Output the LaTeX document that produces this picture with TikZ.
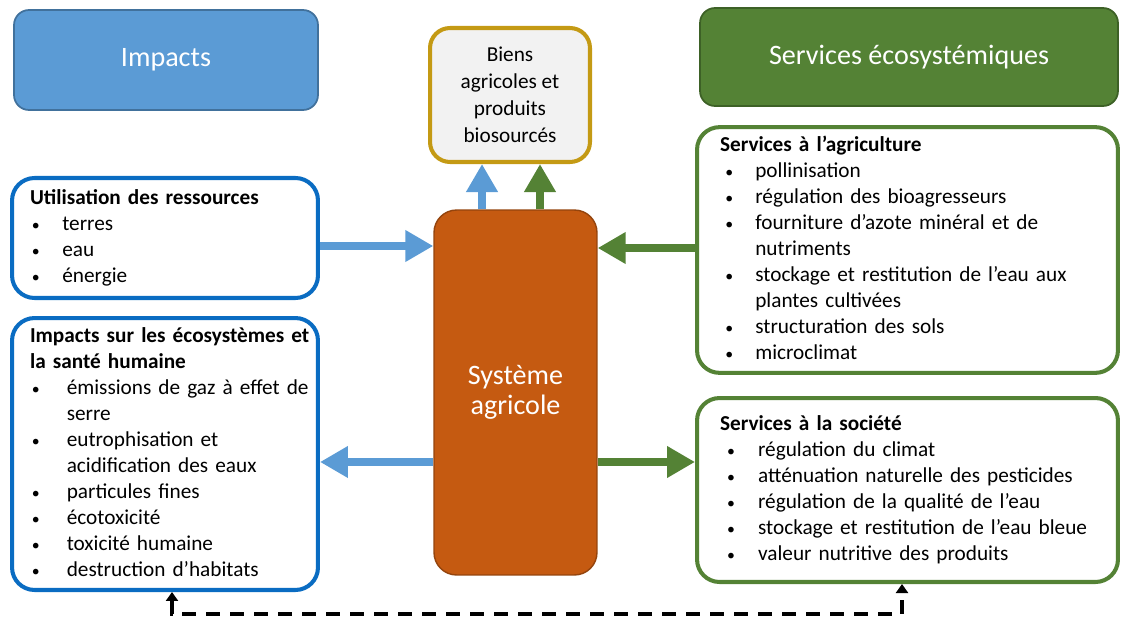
\documentclass[tikz,border=0pt]{standalone}
\usepackage{fontspec}
\setmainfont{Carlito}
\usepackage{xcolor}
\usepackage{tikz}
\usetikzlibrary{shapes, arrows.meta, positioning}

\definecolor{impBlue}{HTML}{5B9BD5}
\definecolor{impLine}{HTML}{41719C}
\definecolor{impEdge}{HTML}{0A6CC2}
\definecolor{serGreen}{HTML}{548235}
\definecolor{serLine}{HTML}{3D6126}
\definecolor{sysOrange}{HTML}{C55A11}
\definecolor{bienGold}{HTML}{C49A14}

\newcommand{\blt}{{\fontsize{9}{9}\selectfont\textbullet}}

\tikzset{
    headbox/.style={draw, rectangle, rounded corners=0.3cm, line width=1pt, text=white,
        font=\fontsize{16}{19}\selectfont},
    listbox/.style={draw, rectangle, rounded corners=0.45cm, line width=2.3pt, fill=white,
        align=left, font=\fontsize{12.1}{14.8}\selectfont},
    flowarrow/.style={line width=4.5pt, -{Triangle[length=0.56cm, width=0.6cm]}},
    dashline/.style={line width=2.2pt, dash pattern=on 0.28cm off 0.2cm,
        {Triangle[length=0.18cm, width=0.24cm]}-{Triangle[length=0.18cm, width=0.24cm]}},
}

\begin{document}
\begin{tikzpicture}[x=0.02cm, y=-0.02cm]
    \useasboundingbox (0,0) rectangle (1122,622);

    % en-tetes
    \node[headbox, fill=impBlue, draw=impLine, minimum width=6.08cm, minimum height=2cm] (impHead) at (166,60) {Impacts};
    \node[headbox, fill=serGreen, draw=serLine, minimum width=8.36cm, minimum height=1.96cm] (serHead) at (909,57) {Services écosystémiques};

    % biens
    \node[draw=bienGold, fill=gray!10, line width=2.3pt, rounded corners=0.4cm, minimum width=3.2cm, minimum height=2.68cm,
        align=center, font=\fontsize{12.1}{15.3}\selectfont] (biens) at (510,95) {Biens\\agricoles et\\produits\\biosourcés};

    % systeme agricole
    \node[fill=sysOrange, draw=sysOrange!75!black, line width=0.8pt, rounded corners=0.45cm, minimum width=3.26cm, minimum height=7.3cm,
        text=white, align=center, font=\fontsize{16}{17}\selectfont] (sys) at (515.5,392.5) {Système\\agricole};

    % impacts
    \node[listbox, draw=impEdge, inner xsep=0.36cm, minimum width=6.12cm, minimum height=2.4cm, text width=5.4cm] (util) at (165,238) {
        \begin{tabular}{@{\hspace{1pt}}p{0.61cm}@{}l@{}}
            \multicolumn{2}{@{}l@{}}{\textbf{Utilisation des ressources}} \\
            \blt & terres \\
            \blt & eau \\
            \blt & énergie
        \end{tabular}
    };
    \node[listbox, draw=impEdge, inner xsep=0.36cm, minimum width=6.12cm, minimum height=5.44cm, text width=5.4cm] (impacts) at (165,454) {
        \begin{tabular}{@{\hspace{1pt}}p{0.7cm}@{}l@{}}
            \multicolumn{2}{@{}l@{}}{\textbf{Impacts sur les écosystèmes et}} \\
            \multicolumn{2}{@{}l@{}}{\textbf{la santé humaine}} \\
            \blt & émissions de gaz à effet de \\
                 & serre \\
            \blt & eutrophisation et \\
                 & acidification des eaux \\
            \blt & particules fines \\
            \blt & écotoxicité \\
            \blt & toxicité humaine \\
            \blt & destruction d’habitats
        \end{tabular}
    };

    % services
    \node[listbox, draw=serGreen, inner xsep=0.44cm, minimum width=8.42cm, minimum height=4.88cm, text width=7.5cm] (agri) at (907.5,250) {
        \begin{tabular}{@{\hspace{3pt}}p{0.6cm}@{}l@{}}
            \multicolumn{2}{@{}l@{}}{\textbf{Services à l’agriculture}} \\
            \blt & pollinisation \\
            \blt & régulation des bioagresseurs \\
            \blt & fourniture d’azote minéral et de \\
                 & nutriments \\
            \blt & stockage et restitution de l’eau aux \\
                 & plantes cultivées \\
            \blt & structuration des sols \\
            \blt & microclimat
        \end{tabular}
    };
    \node[listbox, draw=serGreen, inner xsep=0.42cm, minimum width=8.42cm, minimum height=3.68cm, text width=7.5cm] (soc) at (907.5,490) {
        \begin{tabular}{@{\hspace{4pt}}p{0.62cm}@{}l@{}}
            \multicolumn{2}{@{}l@{}}{\textbf{Services à la société}} \\
            \blt & régulation du climat \\
            \blt & atténuation naturelle des pesticides \\
            \blt & régulation de la qualité de l’eau \\
            \blt & stockage et restitution de l’eau bleue \\
            \blt & valeur nutritive des produits
        \end{tabular}
    };

    % fleches
    \coordinate (utilOut) at ([yshift=-0.16cm]util.east);
    \coordinate (agriOut) at ([yshift=0.04cm]agri.west);
    \coordinate (sysOut) at ([yshift=-1.39cm]sys.center);
    \coordinate (upBlue) at ([xshift=-0.67cm]sys.north);
    \coordinate (upGreen) at ([xshift=0.49cm]sys.north);
    \draw[flowarrow, impBlue] (utilOut) -- (utilOut -| sys.west);
    \draw[flowarrow, serGreen] (agriOut) -- (agriOut -| sys.east);
    \draw[flowarrow, impBlue] (sysOut -| sys.west) -- (sysOut -| impacts.east);
    \draw[flowarrow, serGreen] (sysOut -| sys.east) -- (sysOut -| soc.west);
    \draw[flowarrow, impBlue] (upBlue) -- (upBlue |- biens.south);
    \draw[flowarrow, serGreen] (upGreen) -- (upGreen |- biens.south);

    % lien en pointilles
    \coordinate (dashL) at ([xshift=0.14cm]impacts.south);
    \coordinate (dashR) at ([xshift=-0.11cm]soc.south);
    \draw[dashline] (dashL) -- ++(0cm,-0.44cm) -| (dashR);
\end{tikzpicture}
\end{document}
